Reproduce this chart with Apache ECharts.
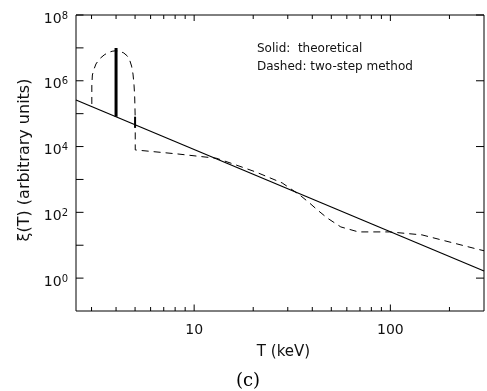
<!DOCTYPE html>
<html><head><meta charset="utf-8">
<script src="https://cdn.jsdelivr.net/npm/echarts@6/dist/echarts.min.js"></script>
<style>html,body{margin:0;padding:0;background:#fff}#c{width:487px;height:391px}</style>
</head><body><div id="c"></div>
<script>
// ---- data ----
const theoretical = [[2.5, 2.6e5], [300, 1.65]];
const deltaMain = [[4.0, 8.05e4], [4.0, 1.0e7]];
const deltaSmall = [[5.0, 3.7e4], [5.0, 8.1e4]];
const twoStep = [
  [3.01,1.97e5],[3.01,7.4e5],[3.03,1.5e6],[3.09,2.28e6],[3.16,3.24e6],[3.29,4.6e6],
  [3.48,6.1e6],[3.64,7.2e6],[3.82,7.9e6],[3.99,8.2e6],[4.18,7.9e6],[4.38,7.0e6],
  [4.56,5.7e6],[4.69,4.3e6],[4.80,2.8e6],[4.88,1.6e6],[4.94,7.4e5],[4.98,3.0e5],
  [5.01,6.4e4],[5.01,7.9e3],[8.23,5.96e3],[13.0,4.4e3],[15.8,2.96e3],[20.6,1.69e3],
  [28.1,783],[34.5,338],[38.7,193],[42.5,118],[47.6,67.6],[55.9,36],[68.7,25.4],
  [99,25.4],[145,20.6],[182,14.5],[229,10.2],[275,7.7],[300,6.8]
];
const xMajorTicks = [10, 100];
const xMinorTicks = [3,4,5,6,7,8,9,20,30,40,50,60,70,80,90,200];
const xTickLabels = [10, 100];
const yLeftTicks = [1,10,100,1e3,1e4,1e5,1e6,1e7,1e8];
const yRightTicks = [1,100,1e4,1e6,1e8];
const yTickLabelValues = [1,100,1e4,1e6,1e8];
const legendLines = ['Solid:  theoretical', 'Dashed: two-step method'];

const FONT = 'DejaVu Sans';
const TXT = '#111';
const chart = echarts.init(document.getElementById('c'), null, {renderer:'canvas'});

function isPow(v, list){
  return list.some(t => Math.abs(Math.log10(v) - Math.log10(t)) < 1e-6);
}
function tickSeries(items){
  return {
    type:'custom', coordinateSystem:'cartesian2d', silent:true, clip:false, z:5,
    data: items,
    renderItem: function(params, api){
      const cs = params.coordSys;
      const side = api.value(2), len = api.value(3);
      let x1,y1,x2,y2;
      if (side === 0 || side === 1){
        const p = api.coord([api.value(0), 1])[0];
        if (side === 0){ x1=p; x2=p; y1=cs.y+cs.height; y2=y1-len; }
        else { x1=p; x2=p; y1=cs.y; y2=y1+len; }
      } else {
        const p = api.coord([10, api.value(1)])[1];
        if (side === 2){ y1=p; y2=p; x1=cs.x; x2=x1+len; }
        else { y1=p; y2=p; x1=cs.x+cs.width; x2=x1-len; }
      }
      return {type:'line', shape:{x1,y1,x2,y2}, style:{stroke:'#000', lineWidth:1}};
    }
  };
}
const tickItems = [];
xMajorTicks.forEach(v => { tickItems.push([v,1,0,6.5]); tickItems.push([v,1,1,6]); });
xMinorTicks.forEach(v => { tickItems.push([v,1,0,4]); tickItems.push([v,1,1,4]); });
yLeftTicks.forEach(v => tickItems.push([10,v,2,7.5]));
yRightTicks.forEach(v => tickItems.push([10,v,3,8]));

chart.setOption({
  animation:false,
  backgroundColor:'#fff',
  grid:{left:76, top:15, right:-6.4, bottom:80, show:true, borderColor:'#000', borderWidth:1, containLabel:false},
  xAxis:{
    type:'log', logBase:10, min:2.5, max:300,
    axisLine:{show:false}, axisTick:{show:false}, splitLine:{show:false}, minorTick:{show:false},
    axisLabel:{
      margin:12, color:TXT, fontFamily:FONT, fontSize:14,
      showMinLabel:true, showMaxLabel:true,
      formatter: v => isPow(v, xTickLabels) ? String(Math.round(v)) : ''
    }
  },
  yAxis:{
    type:'log', logBase:10, min:0.1, max:1e8,
    axisLine:{show:false}, axisTick:{show:false}, splitLine:{show:false}, minorTick:{show:false},
    axisLabel:{
      margin:8, color:TXT, fontFamily:FONT, padding:[8,0,0,0],
      formatter: v => isPow(v, yTickLabelValues) ? '{b|10}{s|' + Math.round(Math.log10(v)) + '}' : '',
      rich:{
        b:{fontSize:14, fontFamily:FONT, color:TXT, lineHeight:16},
        s:{fontSize:10, fontFamily:FONT, color:TXT, verticalAlign:'top', lineHeight:10}
      }
    }
  },
  series:[
    {type:'line', data:theoretical, showSymbol:false, symbol:'none', lineStyle:{color:'#000', width:1.2}, z:3},
    {type:'line', data:deltaMain, showSymbol:false, symbol:'none', lineStyle:{color:'#000', width:3}, z:3},
    {type:'line', data:deltaSmall, showSymbol:false, symbol:'none', lineStyle:{color:'#000', width:2}, z:3},
    {type:'line', data:twoStep, showSymbol:false, symbol:'none', lineStyle:{color:'#000', width:1, type:[7,5]}, z:3},
    tickSeries(tickItems)
  ],
  graphic:[
    {type:'text', left:257, top:43, style:{text:legendLines[0], font:'12px "DejaVu Sans"', fill:TXT}},
    {type:'text', left:257, top:61, style:{text:legendLines[1], font:'12px "DejaVu Sans"', fill:TXT}},
    {type:'text', x:283.5, y:352, style:{text:'T (keV)', font:'15px "DejaVu Sans"', fill:TXT, align:'center', verticalAlign:'middle'}},
    {type:'text', x:248, y:381, style:{text:'(c)', font:'18px "DejaVu Serif"', fill:'#000', align:'center', verticalAlign:'middle'}},
    {type:'text', x:25, y:160, rotation:Math.PI/2, style:{text:'ξ(T) (arbitrary units)', font:'16px "DejaVu Sans"', fill:TXT, align:'center', verticalAlign:'middle'}}
  ]
});
</script>
</body></html>
